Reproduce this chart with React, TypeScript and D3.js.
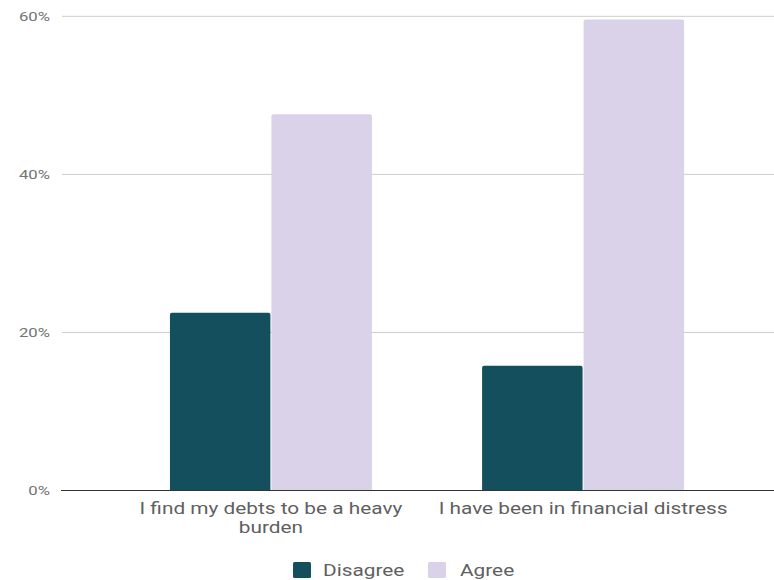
import React from "react";
import * as d3 from "d3";

const categories: string[][] = [
  ["I find my debts to be a heavy", "burden"],
  ["I have been in financial distress"],
];
const seriesNames = ["Disagree", "Agree"];
const disagree = [22.5, 15.8];
const agree = [47.6, 59.6];
const yTicks = [0, 20, 40, 60];
const colors = ["#134f5c", "#d9d2e9"];

const W = 774;
const H = 580;
const plotLeft = 62;
const plotRight = 774;
const yTop = 16.3;
const yBottom = 490.5;
const SX = 1.24; // horizontal stretch of text in reference

export default function App() {
  const y = d3.scaleLinear().domain([0, 60]).range([yBottom, yTop]);
  const x0 = d3
    .scaleBand<number>()
    .domain(categories.map((_, i) => i))
    .range([115, 739])
    .paddingInner(0.353)
    .paddingOuter(0.176);
  const x1 = d3
    .scaleBand<number>()
    .domain([0, 1])
    .range([0, x0.bandwidth()])
    .paddingInner(0.01);
  const values = [disagree, agree];
  const r = 2;

  const barPath = (x: number, w: number, top: number, bottom: number) =>
    `M${x},${bottom}V${top + r}Q${x},${top} ${x + r},${top}H${x + w - r}Q${x + w},${top} ${x + w},${top + r}V${bottom}Z`;

  const legendItems = [
    { sx: 293, tx: 323 },
    { sx: 428, tx: 460 },
  ];

  return (
    <svg
      width={W}
      height={H}
      style={{ position: "absolute", left: 0, top: 0, background: "#fff" }}
      fontFamily="Roboto, 'Noto Sans', sans-serif"
    >
      {yTicks.map((t) => (
        <g key={t}>
          {t !== 0 && (
            <line
              x1={plotLeft}
              x2={plotRight}
              y1={y(t)}
              y2={y(t)}
              stroke="#cccccc"
              strokeWidth={1}
            />
          )}
          <text
            transform={`translate(50,${y(t)}) scale(${SX},1)`}
            dy="0.36em"
            textAnchor="end"
            fontSize={13.5}
            fill="#757575"
          >
            {t}%
          </text>
        </g>
      ))}
      {categories.map((_, ci) =>
        values.map((vals, si) => {
          const bx = (x0(ci) as number) + (x1(si) as number);
          return (
            <path
              key={`${ci}-${si}`}
              d={barPath(bx, x1.bandwidth(), y(vals[ci]), y(0))}
              fill={colors[si]}
            />
          );
        })
      )}
      <line
        x1={plotLeft - 1}
        x2={plotRight}
        y1={y(0)}
        y2={y(0)}
        stroke="#333333"
        strokeWidth={1.2}
      />
      {categories.map((lines, ci) => {
        const cx = (x0(ci) as number) + x0.bandwidth() / 2;
        return (
          <g key={ci} transform={`translate(${cx},514) scale(${SX},1)`}>
            {lines.map((l, li) => (
              <text
                key={li}
                x={0}
                y={li * 19.5}
                textAnchor="middle"
                fontSize={16.8}
                fill="#5f5f5f"
              >
                {l}
              </text>
            ))}
          </g>
        );
      })}
      {legendItems.map((it, i) => (
        <g key={i}>
          <rect x={it.sx} y={562} width={18} height={16} rx={1.5} fill={colors[i]} />
          <text
            transform={`translate(${it.tx},576) scale(${SX},1)`}
            fontSize={16.8}
            fill="#5f5f5f"
          >
            {seriesNames[i]}
          </text>
        </g>
      ))}
    </svg>
  );
}
